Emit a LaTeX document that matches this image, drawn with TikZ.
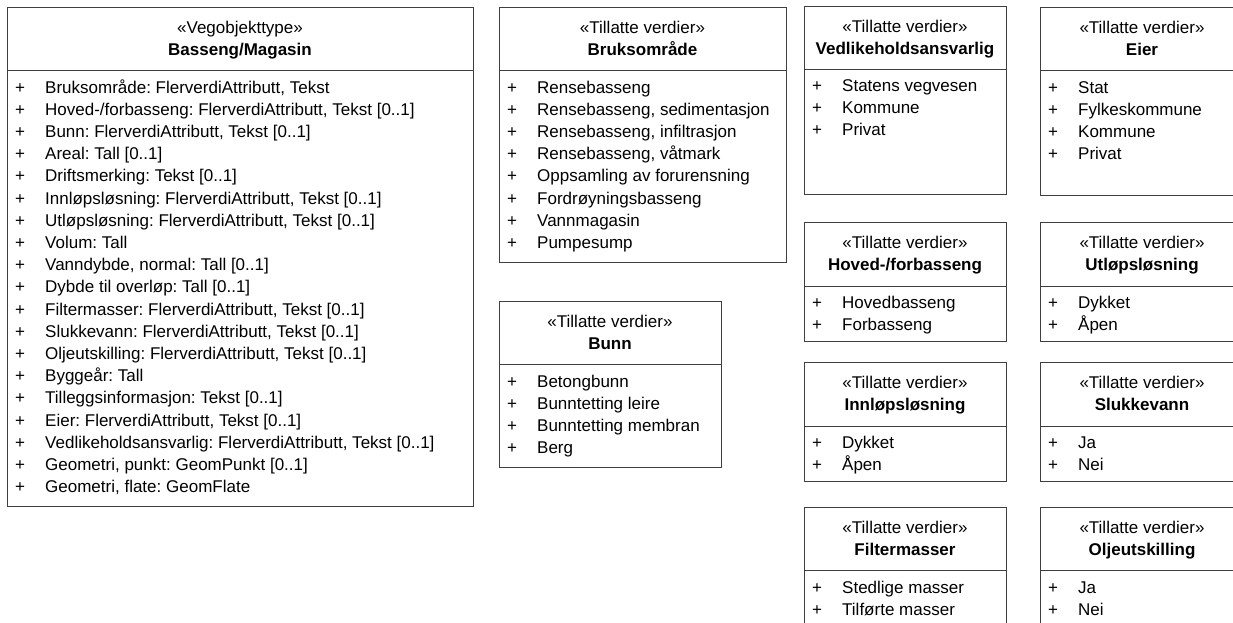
\documentclass[tikz,border=0pt]{standalone}
\usepackage{fontspec}
\setmainfont{Liberation Sans}
\frenchspacing
\newcommand{\umlfont}{\fontsize{17}{22}\selectfont}

\begin{document}
\begin{tikzpicture}[x=1pt,y=-1pt,
  box/.style={draw=black!75,line width=1pt},
  stereo/.style={anchor=base,inner sep=0pt,font=\umlfont},
  title/.style={anchor=base,inner sep=0pt,font=\umlfont\bfseries},
  item/.style={anchor=base west,inner sep=0pt,font=\umlfont}]
\useasboundingbox (0,0) rectangle (1233,622);
\clip (0,0) rectangle (1233,622);
% Vegobjekttype
\draw[box] (7,7) rectangle (473,506);
\draw[box] (7,70) -- (473,70);
\node[stereo] (bas-s) at (240,33) {«Vegobjekttype»};
\node[title] (bas-t) at (240,55.5) {Basseng/Magasin};
\foreach \txt [count=\i from 0] in {{Bruksområde: FlerverdiAttributt, Tekst},
  {Hoved-/forbasseng: FlerverdiAttributt, Tekst [0..1]},
  {Bunn: FlerverdiAttributt, Tekst [0..1]},
  {Areal: Tall [0..1]},
  {Driftsmerking: Tekst [0..1]},
  {Innløpsløsning: FlerverdiAttributt, Tekst [0..1]},
  {Utløpsløsning: FlerverdiAttributt, Tekst [0..1]},
  {Volum: Tall},
  {Vanndybde, normal: Tall [0..1]},
  {Dybde til overløp: Tall [0..1]},
  {Filtermasser: FlerverdiAttributt, Tekst [0..1]},
  {Slukkevann: FlerverdiAttributt, Tekst [0..1]},
  {Oljeutskilling: FlerverdiAttributt, Tekst [0..1]},
  {Byggeår: Tall},
  {Tilleggsinformasjon: Tekst [0..1]},
  {Eier: FlerverdiAttributt, Tekst [0..1]},
  {Vedlikeholdsansvarlig: FlerverdiAttributt, Tekst [0..1]},
  {Geometri, punkt: GeomPunkt [0..1]},
  {Geometri, flate: GeomFlate}}
  \node[item] (bas-\i) at (15,{93+22.2*\i}) {\makebox[30pt][l]{+}\txt};
% Bruksområde
\draw[box] (499,7) rectangle (786,262);
\draw[box] (499,70) -- (786,70);
\node[stereo] (bru-s) at (642.5,33) {«Tillatte verdier»};
\node[title] (bru-t) at (642.5,55.5) {Bruksområde};
\foreach \txt [count=\i from 0] in {Rensebasseng,{Rensebasseng, sedimentasjon},
  {Rensebasseng, infiltrasjon},{Rensebasseng, våtmark},Oppsamling av forurensning,
  Fordrøyningsbasseng,Vannmagasin,Pumpesump}
  \node[item] (bru-\i) at (507,{93+22.2*\i}) {\makebox[30pt][l]{+}\txt};
% Bunn
\draw[box] (499,301) rectangle (721,467);
\draw[box] (499,364) -- (721,364);
\node[stereo] (bun-s) at (610,327) {«Tillatte verdier»};
\node[title] (bun-t) at (610,349.5) {Bunn};
\foreach \txt [count=\i from 0] in {Betongbunn,Bunntetting leire,Bunntetting membran,Berg}
  \node[item] (bun-\i) at (507,{387+22.2*\i}) {\makebox[30pt][l]{+}\txt};
% Vedlikeholdsansvarlig
\draw[box] (804,6) rectangle (1006,194);
\draw[box] (804,69) -- (1006,69);
\node[stereo] (ved-s) at (905,32) {«Tillatte verdier»};
\node[title] (ved-t) at (905,54.5) {Vedlikeholdsansvarlig};
\foreach \txt [count=\i from 0] in {Statens vegvesen,Kommune,Privat}
  \node[item] (ved-\i) at (812,{91+22.2*\i}) {\makebox[30pt][l]{+}\txt};
% Eier
\draw[box] (1040,7) rectangle (1244,195);
\draw[box] (1040,70) -- (1244,70);
\node[stereo] (eie-s) at (1142,33) {«Tillatte verdier»};
\node[title] (eie-t) at (1142,55.5) {Eier};
\foreach \txt [count=\i from 0] in {Stat,Fylkeskommune,Kommune,Privat}
  \node[item] (eie-\i) at (1048,{93+22.2*\i}) {\makebox[30pt][l]{+}\txt};
% Hoved-/forbasseng
\draw[box] (804,222) rectangle (1006,341);
\draw[box] (804,286) -- (1006,286);
\node[stereo] (hov-s) at (905,248) {«Tillatte verdier»};
\node[title] (hov-t) at (905,270.5) {Hoved-/forbasseng};
\foreach \txt [count=\i from 0] in {Hovedbasseng,Forbasseng}
  \node[item] (hov-\i) at (812,{308+22.2*\i}) {\makebox[30pt][l]{+}\txt};
% Utløpsløsning
\draw[box] (1040,222) rectangle (1244,341);
\draw[box] (1040,286) -- (1244,286);
\node[stereo] (utl-s) at (1142,248) {«Tillatte verdier»};
\node[title] (utl-t) at (1142,270.5) {Utløpsløsning};
\foreach \txt [count=\i from 0] in {Dykket,Åpen}
  \node[item] (utl-\i) at (1048,{308+22.2*\i}) {\makebox[30pt][l]{+}\txt};
% Innløpsløsning
\draw[box] (804,362) rectangle (1006,481);
\draw[box] (804,426) -- (1006,426);
\node[stereo] (inn-s) at (905,388) {«Tillatte verdier»};
\node[title] (inn-t) at (905,410.5) {Innløpsløsning};
\foreach \txt [count=\i from 0] in {Dykket,Åpen}
  \node[item] (inn-\i) at (812,{448+22.2*\i}) {\makebox[30pt][l]{+}\txt};
% Slukkevann
\draw[box] (1040,362) rectangle (1244,481);
\draw[box] (1040,426) -- (1244,426);
\node[stereo] (slu-s) at (1142,388) {«Tillatte verdier»};
\node[title] (slu-t) at (1142,410.5) {Slukkevann};
\foreach \txt [count=\i from 0] in {Ja,Nei}
  \node[item] (slu-\i) at (1048,{448+22.2*\i}) {\makebox[30pt][l]{+}\txt};
% Filtermasser
\draw[box] (804,507) rectangle (1006,650);
\draw[box] (804,570) -- (1006,570);
\node[stereo] (fil-s) at (905,533) {«Tillatte verdier»};
\node[title] (fil-t) at (905,555.5) {Filtermasser};
\foreach \txt [count=\i from 0] in {Stedlige masser,Tilførte masser}
  \node[item] (fil-\i) at (812,{593+22.2*\i}) {\makebox[30pt][l]{+}\txt};
% Oljeutskilling
\draw[box] (1040,507) rectangle (1244,650);
\draw[box] (1040,570) -- (1244,570);
\node[stereo] (olj-s) at (1142,533) {«Tillatte verdier»};
\node[title] (olj-t) at (1142,555.5) {Oljeutskilling};
\foreach \txt [count=\i from 0] in {Ja,Nei}
  \node[item] (olj-\i) at (1048,{593+22.2*\i}) {\makebox[30pt][l]{+}\txt};
\end{tikzpicture}
\end{document}
